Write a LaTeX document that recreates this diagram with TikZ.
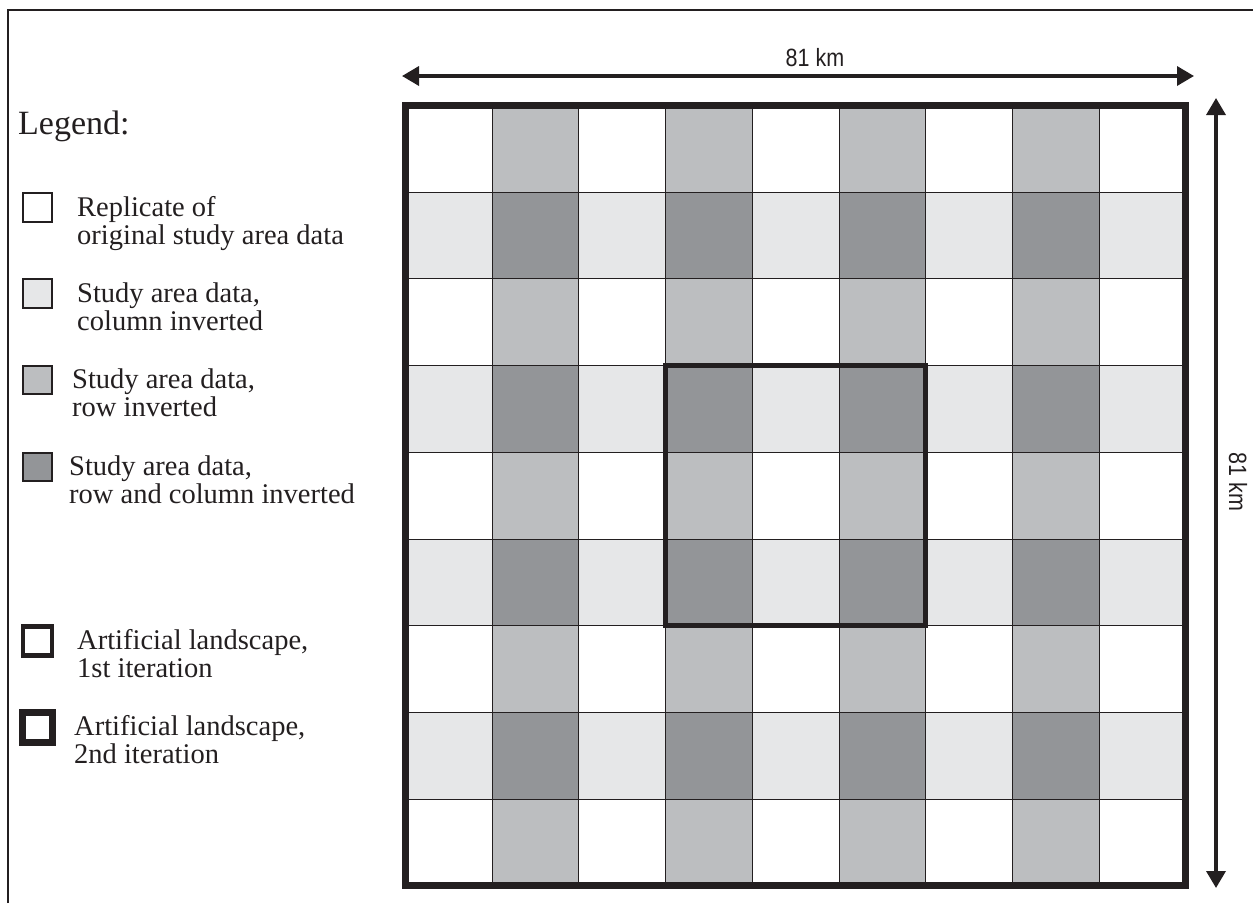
\documentclass[tikz,border=0pt]{standalone}
\usepackage{fontspec}
\setmainfont{Liberation Serif}
\newfontfamily\kmfont[FakeStretch=0.86]{Liberation Sans}
\usetikzlibrary{arrows.meta,positioning}
\definecolor{colinv}{HTML}{E6E7E8}
\definecolor{rowinv}{HTML}{BCBEC0}
\definecolor{bothinv}{HTML}{939598}
\definecolor{inkline}{HTML}{231F20}
\tikzset{
  cellline/.style  = {line width=1pt, draw=inkline},
  outerframe/.style= {line width=7pt, draw=inkline},
  iterframe/.style = {line width=4.5pt, draw=inkline},
  pageframe/.style = {line width=2pt, draw=inkline},
  dimarrow/.style  = {{Triangle[length=17pt,width=19pt]}-{Triangle[length=17pt,width=19pt]},
                      line width=3.5pt, draw=inkline},
  legbox/.style    = {line width=1.2pt, draw=inkline},
  legtext/.style   = {font=\fontsize{28.5}{28}\selectfont, align=left,
                      anchor=base west, inner sep=0pt, text=inkline},
  kmlabel/.style   = {font=\kmfont\fontsize{25}{26}\selectfont, inner sep=0pt, text=inkline},
}

\begin{document}
\begin{tikzpicture}[x=1pt,y=-1pt]
  \useasboundingbox (0,0) rectangle (1253,903);

  % ---- page frame (cut off at right and bottom) ---------------------------
  \draw[pageframe] (8,903) -- (8,10) -- (1253,10);

  % ---- 9 x 9 tiling of the study area -------------------------------------
  \def\gx{405.5}
  \def\gy{105.5}
  \def\cs{86.7}
  \foreach \r in {0,...,8}{
    \foreach \c in {0,...,8}{
      \ifodd\r
        \ifodd\c \def\cellcol{bothinv}\else \def\cellcol{colinv}\fi
      \else
        \ifodd\c \def\cellcol{rowinv}\else \def\cellcol{white}\fi
      \fi
      \fill[\cellcol] ({\gx+\c*\cs},{\gy+\r*\cs}) rectangle +(\cs,\cs);
    }
  }
  \foreach \i in {1,...,8}{
    \draw[cellline] ({\gx+\i*\cs},\gy) -- +(0,9*\cs);
    \draw[cellline] (\gx,{\gy+\i*\cs}) -- +(9*\cs,0);
  }

  % ---- 1st and 2nd iteration outlines -------------------------------------
  \draw[iterframe] ({\gx+3*\cs},{\gy+3*\cs}) rectangle +(3*\cs,3*\cs);
  \draw[outerframe] (\gx,\gy) rectangle +(9*\cs,9*\cs);

  % ---- extent arrows ------------------------------------------------------
  \coordinate (wL) at (402,76);
  \coordinate (wR) at (1194,76);
  \coordinate (hT) at (1216,98);
  \coordinate (hB) at (1216,888);
  \draw[dimarrow] (wL) -- (wR);
  \draw[dimarrow] (hT) -- (hB);
  \node[kmlabel, anchor=base] (wlab) at (815,66) {81 km};
  \node[kmlabel, anchor=base, rotate=-90] (hlab) at (1229,482) {81 km};

  % ---- legend -------------------------------------------------------------
  \node[legtext, font=\fontsize{34}{34}\selectfont] (legtitle) at (18,134) {Legend:};

  \draw[legbox, fill=white]   (23,193) rectangle (52,222);
  \draw[legbox, fill=colinv]  (23,279) rectangle (52,308);
  \draw[legbox, fill=rowinv]  (23,366) rectangle (52,394);
  \draw[legbox, fill=bothinv] (23,453) rectangle (52,481);
  \draw[iterframe] (23,626.5) rectangle (52,655.5);
  \draw[outerframe] (22.5,712) rectangle (52.5,742);

  \node[legtext] (leg1) at (77,244) {Replicate of\\original study area data};
  \node[legtext] (leg2) at (77,330) {Study area data,\\column inverted};
  \node[legtext] (leg3) at (72,416) {Study area data,\\row inverted};
  \node[legtext] (leg4) at (69,503) {Study area data,\\row and column inverted};
  \node[legtext] (leg5) at (77,677) {Artificial landscape,\\1st iteration};
  \node[legtext] (leg6) at (74,763) {Artificial landscape,\\2nd iteration};
\end{tikzpicture}
\end{document}
